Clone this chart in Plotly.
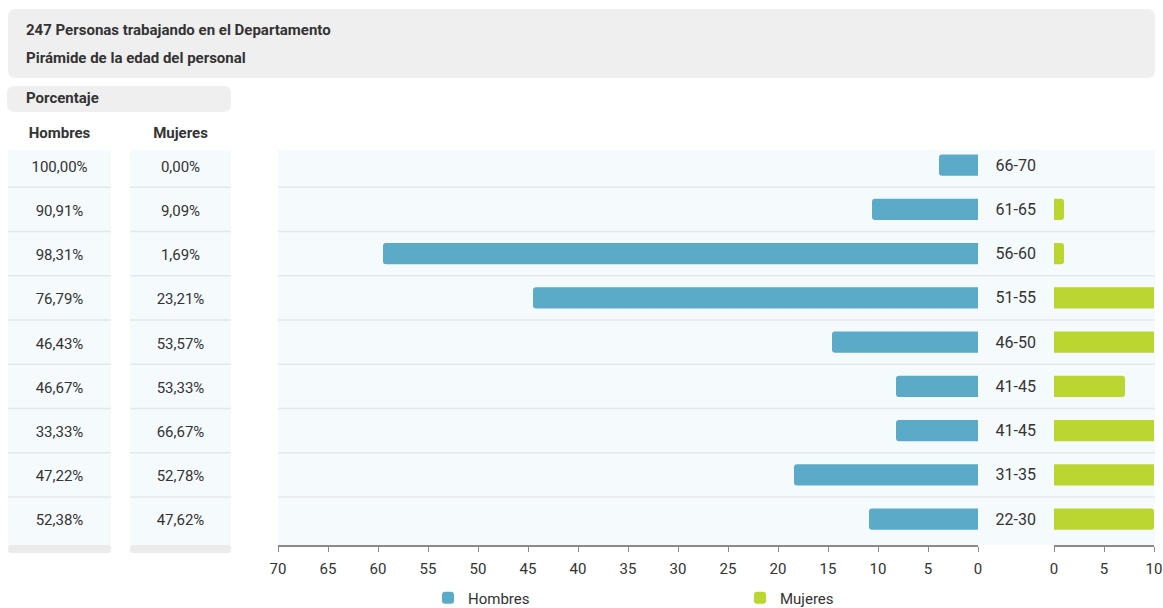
import plotly.graph_objects as go

# ---------------- data ----------------
age_groups = ["66-70", "61-65", "56-60", "51-55", "46-50", "41-45", "41-45", "31-35", "22-30"]
hombres = [3.9, 10.6, 59.5, 44.5, 14.6, 8.2, 8.2, 18.4, 10.9]
mujeres = [0, 1.0, 1.0, 13, 15, 7.1, 14, 19, 10]
pct_hombres = ["100,00%", "90,91%", "98,31%", "76,79%", "46,43%", "46,67%", "33,33%", "47,22%", "52,38%"]
pct_mujeres = ["0,00%", "9,09%", "1,69%", "23,21%", "53,57%", "53,33%", "66,67%", "52,78%", "47,62%"]
table_columns = ["Hombres", "Mujeres"]
title_lines = ["247 Personas trabajando en el Departamento", "Pirámide de la edad del personal"]
table_title = "Porcentaje"
men_ticks = list(range(0, 71, 5))
women_ticks = [0, 5, 10]

# ---------------- styling ----------------
W, H = 1163, 608
FONT = "Roboto, Lato, sans-serif"
TXT = "#333333"
BLUE = "#5aaac8"
GREEN = "#bcd631"
PANEL = "#f5fafd"
GREYBOX = "#efefef"
SEP = "#e4e8ec"


def px(x):
    return x / W


def py(y):
    return 1 - y / H


def rounded_rect(x0, y0, x1, y1, r):
    rx, ry = r / W, r / H
    X0, X1 = px(x0), px(x1)
    Y0, Y1 = py(y0), py(y1)
    return (f"M{X0+rx},{Y0} L{X1-rx},{Y0} Q{X1},{Y0} {X1},{Y0-ry} "
            f"L{X1},{Y1+ry} Q{X1},{Y1} {X1-rx},{Y1} L{X0+rx},{Y1} "
            f"Q{X0},{Y1} {X0},{Y1+ry} L{X0},{Y0-ry} Q{X0},{Y0} {X0+rx},{Y0} Z")


n = len(age_groups)
idx = list(range(n))
plot_top, plot_bot = 150, 545
step = 44.23
r_top = -(165.2 - plot_top) / step
r_bot = r_top + (plot_bot - plot_top) / step
ydom = [py(plot_bot), py(plot_top)]

fig = go.Figure()

fig.add_trace(go.Bar(
    y=idx, x=hombres, orientation="h", name="Hombres",
    marker=dict(color=BLUE, cornerradius=3, line=dict(width=0)),
    width=0.48, xaxis="x", yaxis="y", hoverinfo="x+name",
))
fig.add_trace(go.Bar(
    y=idx, x=mujeres, orientation="h", name="Mujeres",
    marker=dict(color=GREEN, cornerradius=3, line=dict(width=0)),
    width=0.48, xaxis="x2", yaxis="y2", hoverinfo="x+name",
))

for ci, vals in enumerate([pct_hombres, pct_mujeres]):
    fig.add_trace(go.Scatter(
        x=[ci] * n, y=[i + 0.06 for i in idx], mode="text", text=vals,
        textfont=dict(family=FONT, size=15, color=TXT),
        xaxis="x3", yaxis="y3", showlegend=False, hoverinfo="skip",
    ))

tab_l, tab_r = 8, 231
col_c0, col_c1 = 59.5, 180.5
unit = col_c1 - col_c0
x3_range = [-(col_c0 - tab_l) / unit, 1 + (tab_r - col_c1) / unit]

axis_common = dict(showgrid=False, zeroline=False, showline=True, linecolor="#8a8a8a",
                   linewidth=1.5, ticks="outside", ticklen=5, tickcolor="#8a8a8a",
                   ticklabelstandoff=4,
                   tickfont=dict(family=FONT, size=15, color=TXT), fixedrange=True,
                   automargin=False)

fig.update_layout(
    width=W, height=H, autosize=False,
    margin=dict(l=0, r=0, t=0, b=0, pad=0, autoexpand=False),
    paper_bgcolor="white", plot_bgcolor="rgba(0,0,0,0)",
    font=dict(family=FONT, size=15, color=TXT),
    barmode="overlay",
    xaxis=dict(domain=[px(278), px(978)], range=[70, 0], tickvals=men_ticks,
               anchor="y", **axis_common),
    xaxis2=dict(domain=[px(1054), px(1154)], range=[0, 10], tickvals=women_ticks,
                anchor="y2", **axis_common),
    xaxis3=dict(domain=[px(tab_l), px(tab_r)], range=x3_range, side="top",
                tickvals=[0, 1], ticktext=table_columns, showline=False, ticks="",
                showgrid=False, zeroline=False, ticklabelstandoff=8, automargin=False,
                tickfont=dict(family=FONT, size=15, color=TXT, weight="bold"),
                anchor="y3", fixedrange=True),
    yaxis=dict(domain=ydom, range=[r_bot, r_top], showticklabels=False, showgrid=False,
               zeroline=False, showline=False, anchor="x", fixedrange=True, automargin=False),
    yaxis2=dict(domain=ydom, range=[r_bot, r_top], tickvals=idx, ticktext=age_groups,
                showgrid=False, zeroline=False, showline=False, ticks="",
                ticklabelstandoff=17, automargin=False,
                tickfont=dict(family=FONT, size=16, color=TXT), anchor="x2", fixedrange=True),
    yaxis3=dict(domain=ydom, range=[r_bot, r_top], visible=False, anchor="x3",
                fixedrange=True, automargin=False),
    showlegend=True,
    legend=dict(orientation="h", xref="container", yref="container",
                x=px(428), y=py(598), xanchor="left", yanchor="middle",
                entrywidth=267, entrywidthmode="pixels", bgcolor="rgba(0,0,0,0)",
                font=dict(family=FONT, size=15, color=TXT), itemclick=False,
                itemdoubleclick=False),
)

shapes = []
shapes.append(dict(type="path", xref="paper", yref="paper", path=rounded_rect(8, 9, 1155, 78, 8),
                   fillcolor=GREYBOX, line=dict(width=0), layer="below"))
shapes.append(dict(type="path", xref="paper", yref="paper", path=rounded_rect(7, 86, 231, 112, 8),
                   fillcolor=GREYBOX, line=dict(width=0), layer="below"))
for (x0, x1) in [(8, 111), (130, 231)]:
    shapes.append(dict(type="rect", xref="paper", yref="paper", x0=px(x0), x1=px(x1),
                       y0=py(plot_bot), y1=py(plot_top), fillcolor=PANEL, line=dict(width=0),
                       layer="below"))
    shapes.append(dict(type="path", xref="paper", yref="paper",
                       path=rounded_rect(x0, 545, x1, 553, 3),
                       fillcolor="#ebebeb", line=dict(width=0), layer="below"))
shapes.append(dict(type="rect", xref="paper", yref="paper", x0=px(278), x1=px(1155),
                   y0=py(plot_bot), y1=py(plot_top), fillcolor=PANEL, line=dict(width=0),
                   layer="below"))
for i in idx[:-1]:
    for (x0, x1) in [(8, 111), (130, 231), (278, 1155)]:
        shapes.append(dict(type="line", xref="paper", yref="y", x0=px(x0), x1=px(x1),
                           y0=i + 0.5, y1=i + 0.5, line=dict(color=SEP, width=1.5),
                           layer="below"))
fig.update_layout(shapes=shapes)

annotations = []
for line_text, yy in zip(title_lines, [30, 58]):
    annotations.append(dict(text=f"<b>{line_text}</b>", x=px(24), y=py(yy), xref="paper",
                            yref="paper", xanchor="left", yanchor="middle", showarrow=False,
                            font=dict(family=FONT, size=15, color=TXT)))
annotations.append(dict(text=f"<b>{table_title}</b>", x=px(24), y=py(98), xref="paper",
                        yref="paper", xanchor="left", yanchor="middle", showarrow=False,
                        font=dict(family=FONT, size=15, color=TXT)))
fig.update_layout(annotations=annotations)

fig.write_html(
    "out.html",
    config={"displayModeBar": False},
    post_script="document.body.style.margin='0';document.body.style.overflow='hidden';",
)
